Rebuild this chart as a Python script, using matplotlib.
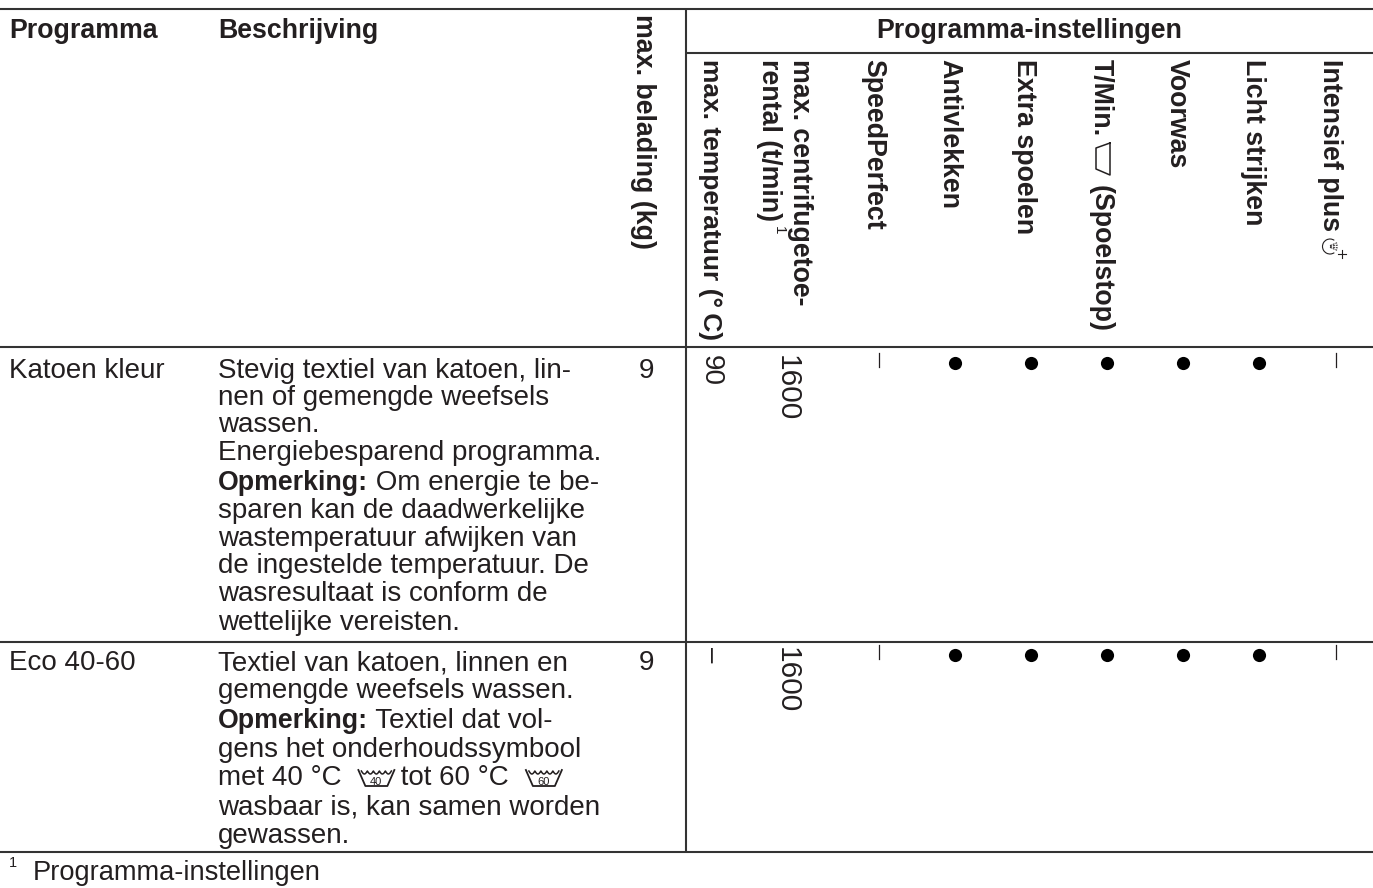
import numpy as np
import matplotlib
matplotlib.use('Agg')
import matplotlib.pyplot as plt
from matplotlib.patches import Arc

plt.rcParams['font.family'] = ['Liberation Sans', 'DejaVu Sans']

INK = '#231f20'
SIZE = 20
BOLD_SIZE = 19.3

# table contents
programmes = ['Katoen kleur', 'Eco 40-60']
max_load = ['9', '9']
max_temp = ['90', '–']
max_spin = ['1600', '1600']
speed_perfect = [0, 0]
antivlekken = [1, 1]
extra_spoelen = [1, 1]
spoelstop = [1, 1]
voorwas = [1, 1]
licht_strijken = [1, 1]
intensief_plus = [0, 0]

setting_columns = [speed_perfect, antivlekken, extra_spoelen, spoelstop,
                   voorwas, licht_strijken, intensief_plus]

rotated_headers = ['SpeedPerfect', 'Antivlekken', 'Extra spoelen', None,
                   'Voorwas', 'Licht strijken', 'Intensief plus']

# description lines: each line is a list of (style, text) parts
descriptions = [
    [
        [('n', 'Stevig textiel van katoen, lin-')],
        [('n', 'nen of gemengde weefsels')],
        [('n', 'wassen.')],
        [('n', 'Energiebesparend programma.')],
        [('b', 'Opmerking:'), ('n', ' Om energie te be-')],
        [('n', 'sparen kan de daadwerkelijke')],
        [('n', 'wastemperatuur afwijken van')],
        [('n', 'de ingestelde temperatuur. De')],
        [('n', 'wasresultaat is conform de')],
        [('n', 'wettelijke vereisten.')],
    ],
    [
        [('n', 'Textiel van katoen, linnen en')],
        [('n', 'gemengde weefsels wassen.')],
        [('b', 'Opmerking:'), ('n', ' Textiel dat vol-')],
        [('n', 'gens het onderhoudssymbool')],
        [('n', 'met 40 °C '), ('i', '40'), ('n', ' tot 60 °C '), ('i', '60')],
        [('n', 'wasbaar is, kan samen worden')],
        [('n', 'gewassen.')],
    ],
]

# layout in pixels
line_baselines = [
    [378, 405, 432, 460, 490, 518, 546, 573, 601, 630],
    [670, 698, 728, 757, 785, 814, 843],
]
row_mark_y = [363, 655]
setting_x = [879, 955, 1031, 1107, 1183, 1259, 1336]
header_base_x = [866, 942, 1017, 1094, 1170, 1246, 1323]

fig = plt.figure(figsize=(13.73, 8.88), dpi=100)
ax = fig.add_axes([0, 0, 1, 1])
ax.set_xlim(0, 1373)
ax.set_ylim(888, 0)
ax.axis('off')
renderer = fig.canvas.get_renderer()


def rule(x0, x1, y0, y1, lw=1.5):
    ax.plot([x0, x1], [y0, y1], color='#333333', lw=lw, solid_capstyle='butt')


def down_text(x, y, s, weight='bold', size=BOLD_SIZE):
    # text running downwards, letter tops to the right
    ax.text(x, y, s, rotation=270, rotation_mode='anchor', ha='left',
            va='baseline', fontweight=weight, fontsize=size, color=INK)


def wash_icon(x, base, label):
    left = x + 9
    xs = np.linspace(left + 3, left + 33, 61)
    ax.plot(xs, base - 14 + 3 * np.abs(np.sin((xs - left - 3) * np.pi / 6.0)), color=INK, lw=1.1)
    ax.plot([left, left + 7, left + 29, left + 36], [base - 15, base + 1, base + 1, base - 15],
            color=INK, lw=1.3)
    ax.text(left + 18, base - 0.5, label, ha='center', va='baseline', fontsize=8, color=INK)
    return 44


def text_width(s, weight, size):
    # keep leading and trailing blanks in the measure by fencing with a bar
    t1 = ax.text(0, 0, '|' + s + '|', fontweight=weight, fontsize=size)
    t2 = ax.text(0, 0, '||', fontweight=weight, fontsize=size)
    w = t1.get_window_extent(renderer).width - t2.get_window_extent(renderer).width
    t1.remove()
    t2.remove()
    return w


def draw_line(x, y, parts):
    for style, s in parts:
        if style == 'i':
            x += wash_icon(x, y, s)
            continue
        weight = 'bold' if style == 'b' else 'normal'
        size = BOLD_SIZE if style == 'b' else SIZE
        ax.text(x, y, s, ha='left', va='baseline', fontsize=size, color=INK, fontweight=weight)
        x += text_width(s, weight, size)


def rinse_stop_icon():
    ax.plot([1110, 1096, 1096, 1110, 1110], [143, 148, 169, 175, 143], color=INK, lw=1.1)


def shower_icon():
    ax.add_patch(Arc((1330, 246.5), 15, 15, theta1=55, theta2=305, color=INK, lw=0.8))
    for angle in [-28, -10, 10, 28]:
        a = np.deg2rad(angle)
        ax.plot([1330, 1330 + 8 * np.cos(a)], [246.5 + 2 * np.sin(a), 246.5 + 8 * np.sin(a)],
                color=INK, lw=0.7, ls=(0, (2, 1)))
    ax.plot([1338, 1346], [254, 254], color=INK, lw=0.8)
    ax.plot([1342, 1342], [250, 258], color=INK, lw=0.8)


# rules
rule(0, 1373, 9, 9)
rule(686, 1373, 53, 53)
rule(0, 1373, 347, 347)
rule(0, 1373, 642, 642)
rule(0, 1373, 852, 852)
rule(686, 686, 9, 852)

# header
ax.text(9, 38, 'Programma', fontweight='bold', fontsize=BOLD_SIZE, color=INK)
ax.text(218, 38, 'Beschrijving', fontweight='bold', fontsize=BOLD_SIZE, color=INK)
ax.text(1029, 38, 'Programma-instellingen', ha='center', fontweight='bold', fontsize=BOLD_SIZE, color=INK)
down_text(636, 14, 'max. belading (kg)')
down_text(703, 59, 'max. temperatuur (°\u2009C)', size=19)
down_text(793, 59, 'max. centrifugetoe-')
down_text(762, 59, 'rental (t/min)')
ax.text(775, 226, '1', rotation=270, rotation_mode='anchor', fontsize=11, color=INK)
for x, label in zip(header_base_x, rotated_headers):
    if label:
        down_text(x, 59, label)
down_text(header_base_x[3], 59, 'T/Min.')
down_text(header_base_x[3], 185, '(Spoelstop)')
rinse_stop_icon()
shower_icon()

# rows
for r, name in enumerate(programmes):
    base = line_baselines[r]
    ax.text(9, base[0], name, fontsize=SIZE, color=INK)
    for y, parts in zip(base, descriptions[r]):
        draw_line(218, y, parts)
    ax.text(646, base[0], max_load[r], ha='center', fontsize=SIZE, color=INK)

    down_text(704, row_mark_y[r] - 8, max_temp[r], weight='normal', size=SIZE)
    down_text(779, row_mark_y[r] - 8, max_spin[r], weight='normal', size=21.5)

    for x, col in zip(setting_x, setting_columns):
        if col[r]:
            ax.scatter([x], [row_mark_y[r]], s=90, color='black', linewidths=0, zorder=3)
        else:
            ax.plot([x, x], [row_mark_y[r] - 10, row_mark_y[r] + 4], color=INK, lw=0.9)

# footnote
ax.text(9, 867, '1', fontsize=10.5, color=INK)
ax.text(33, 880, 'Programma-instellingen', fontsize=19.6, color=INK)

fig.savefig('out.png', dpi=100)
